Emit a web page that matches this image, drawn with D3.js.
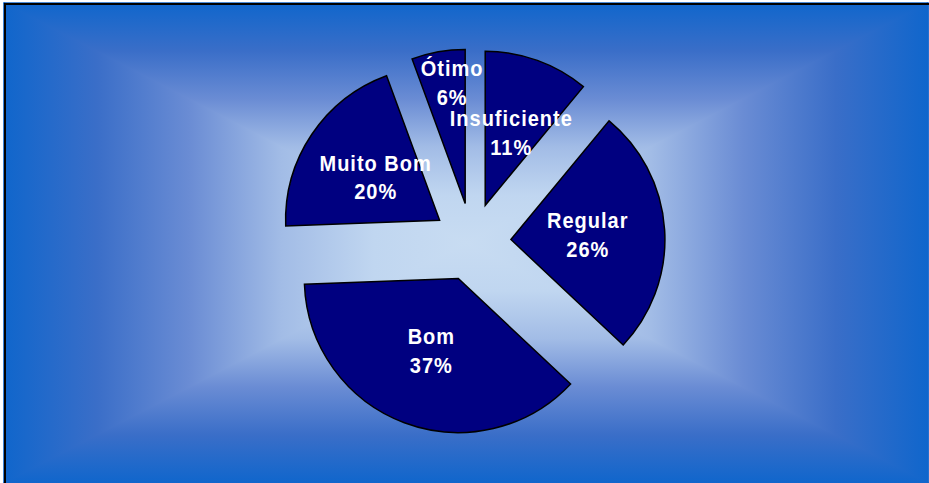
<!DOCTYPE html>
<html><head><meta charset="utf-8">
<script src="https://cdn.jsdelivr.net/npm/d3@7"></script>
<style>html,body{margin:0;padding:0;background:#fff;overflow:hidden}</style>
</head><body>
<svg id="chart" width="929" height="483"></svg>
<script>
const categories = ["Insuficiente", "Regular", "Bom", "Muito Bom", "Ótimo"];
const values = [11, 26, 37.4, 20, 5.6];

const W = 929, H = 483;
const svg = d3.select("#chart");
const defs = svg.append("defs");

// background: rectangular "from center" gradient built from four triangles
const x0 = 4, y0 = 3, x1 = 928, y1 = 483, gcx = 466, gcy = 243;
const stops = [[0, "#1066cc"], [0.2, "#3a6ec8"], [0.4, "#6a8cd4"], [0.6, "#a2bce6"], [0.8, "#c0d6f0"], [1, "#c8dcf2"]];
const tris = [
  {id: "gT", pts: [[x0, y0], [x1, y0], [gcx, gcy]], g: [gcx, y0, gcx, gcy]},
  {id: "gB", pts: [[x0, y1], [x1, y1], [gcx, gcy]], g: [gcx, y1, gcx, gcy]},
  {id: "gL", pts: [[x0, y0], [x0, y1], [gcx, gcy]], g: [x0, gcy, gcx, gcy]},
  {id: "gR", pts: [[x1, y0], [x1, y1], [gcx, gcy]], g: [x1, gcy, gcx, gcy]}
];
svg.append("rect").attr("x", x0).attr("y", y0).attr("width", W).attr("height", H).attr("fill", "#7c9ad8");
tris.forEach(t => {
  const lg = defs.append("linearGradient").attr("id", t.id).attr("gradientUnits", "userSpaceOnUse")
    .attr("x1", t.g[0]).attr("y1", t.g[1]).attr("x2", t.g[2]).attr("y2", t.g[3]);
  stops.forEach(s => lg.append("stop").attr("offset", s[0]).attr("stop-color", s[1]));
  svg.append("polygon").attr("points", t.pts.map(p => p.join(",")).join(" "))
    .attr("fill", `url(#${t.id})`).attr("stroke", `url(#${t.id})`).attr("stroke-width", 1.6)
    .attr("stroke-linejoin", "round");
});
svg.append("rect").attr("x", 5).attr("y", 4).attr("width", W + 10).attr("height", H + 10)
  .attr("fill", "none").attr("stroke", "#000").attr("stroke-width", 2);

// pie
const cx = 472, cy = 242, R = 154, explode = 39;
const total = d3.sum(values);
const data = categories.map((c, i) => ({cat: c, val: values[i]}));
const pie = d3.pie().sort(null).value(d => d.val);
const arc = d3.arc().innerRadius(0).outerRadius(R);
const arcs = pie(data);

const g = svg.append("g").attr("transform", `translate(${cx},${cy})`);
arcs.forEach(a => {
  const mid = (a.startAngle + a.endAngle) / 2;
  const ox = explode * Math.sin(mid), oy = -explode * Math.cos(mid);
  g.append("path").attr("d", arc(a)).attr("transform", `translate(${ox},${oy})`)
    .attr("fill", "#000080").attr("stroke", "#000").attr("stroke-width", 1.5)
    .attr("stroke-linejoin", "miter");
});

// labels
arcs.forEach(a => {
  let mid = (a.startAngle + a.endAngle) / 2;
  let r = explode + 0.5 * R;
  if (a.endAngle - a.startAngle < 0.45) { r = explode + 0.79 * R; mid += 3 * Math.PI / 180; }
  const lx = r * Math.sin(mid), ly = -r * Math.cos(mid);
  const pct = Math.round(a.data.val / total * 100) + "%";
  [[a.data.cat, ly - 6.5], [pct, ly + 22]].forEach(([txt, by]) => {
    g.append("text").attr("transform", `translate(${lx},${by}) scale(1,1.1)`)
      .attr("text-anchor", "middle")
      .attr("font-family", "'Liberation Sans', Arial, sans-serif")
      .attr("font-weight", "bold").attr("font-size", 20)
      .attr("letter-spacing", "1px")
      .attr("fill", "#fff").text(txt);
  });
});
</script>
</body></html>
